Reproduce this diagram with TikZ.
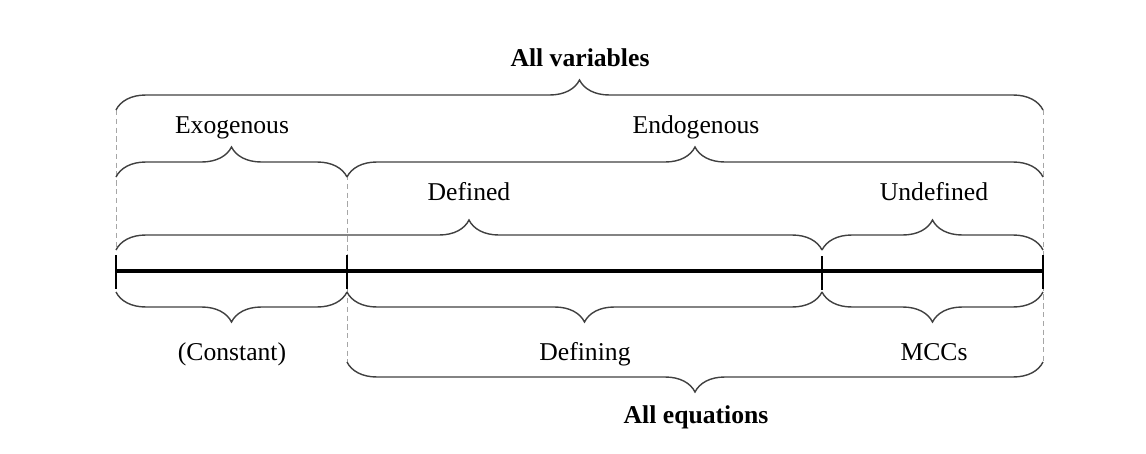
\documentclass[tikz,border=0pt]{standalone}
\usepackage{fontspec}
\setmainfont{Liberation Serif}
\usetikzlibrary{decorations.pathreplacing}

\begin{document}
\begin{tikzpicture}[x=0.02cm,y=-0.02cm,
    upbrace/.style={
      decorate,
      decoration={brace,amplitude=0.6cm},
      line width=0.8pt,
      black!75
    },
    downbrace/.style={
      upbrace,
      decoration={brace,mirror,amplitude=0.6cm}
    },
    guide/.style={densely dashed,gray!70,line width=0.4pt},
    lbl/.style={font=\fontsize{14.6}{17}\selectfont,inner sep=0,
      text height=0.68em,text depth=0.22em},
    title/.style={lbl,font=\fontsize{14.6}{17}\selectfont\bfseries}]
    \useasboundingbox (0,0) rectangle (1146,453);

    % points on the axis
    \coordinate (a) at (116,271);
    \coordinate (b) at (347,271);
    \coordinate (c) at (822,271);
    \coordinate (d) at (1043,271);

    % ticks
    \coordinate (at) at (116,255); \coordinate (ab) at (116,289);
    \coordinate (bt) at (347,255); \coordinate (bb) at (347,289);
    \coordinate (ct) at (822,256); \coordinate (cb) at (822,290);
    \coordinate (dt) at (1043,255); \coordinate (db) at (1043,289);

    % brace ends
    \coordinate (all1) at (116,110);  \coordinate (all2) at (1043,110);
    \coordinate (exo1) at (116,177);  \coordinate (exo2) at (347,177);
    \coordinate (endo1) at (347,177); \coordinate (endo2) at (1043,177);
    \coordinate (def1) at (116,250);  \coordinate (def2) at (822,250);
    \coordinate (und1) at (822,250);  \coordinate (und2) at (1043,250);
    \coordinate (con1) at (116,292);  \coordinate (con2) at (347,292);
    \coordinate (dfg1) at (347,292);  \coordinate (dfg2) at (822,292);
    \coordinate (mcc1) at (822,292);  \coordinate (mcc2) at (1043,292);
    \coordinate (eq1) at (347,362);   \coordinate (eq2) at (1043,362);
    \coordinate (endotip) at (347,175);

    % dashed guides
    \path[draw,guide]
        (all1) edge (def1)
        (endotip) edge (eq1)
        (all2) edge (eq2)
        ;

    % axis
    \draw[line width=2pt] (a) -- (d);
    \path[draw,line width=0.8pt]
        (at) edge (ab)
        (bt) edge (bb)
        (ct) edge (cb)
        (dt) edge (db)
        ;

    % braces above
    \draw[upbrace] (all1) -- (all2);
    \draw[upbrace] (exo1) -- (exo2);
    \draw[upbrace] (endo1) -- (endo2);
    \draw[upbrace] (def1) -- (def2);
    \draw[upbrace] (und1) -- (und2);

    % braces below
    \draw[downbrace] (con1) -- (con2);
    \draw[downbrace] (dfg1) -- (dfg2);
    \draw[downbrace] (mcc1) -- (mcc2);
    \draw[downbrace] (eq1) -- (eq2);

    % labels
    \node[title] (allvar) at (580,62) {All variables};
    \node[lbl] (exo) at (232,129) {Exogenous};
    \node[lbl] (endo) at (696,129) {Endogenous};
    \node[lbl] (defd) at (469,196) {Defined};
    \node[lbl] (undef) at (934,196) {Undefined};
    \node[lbl] (const) at (232,356) {(Constant)};
    \node[lbl] (defining) at (585,356) {Defining};
    \node[lbl] (mccs) at (934,356) {MCCs};
    \node[title] (alleq) at (696,419) {All equations};
\end{tikzpicture}
\end{document}
